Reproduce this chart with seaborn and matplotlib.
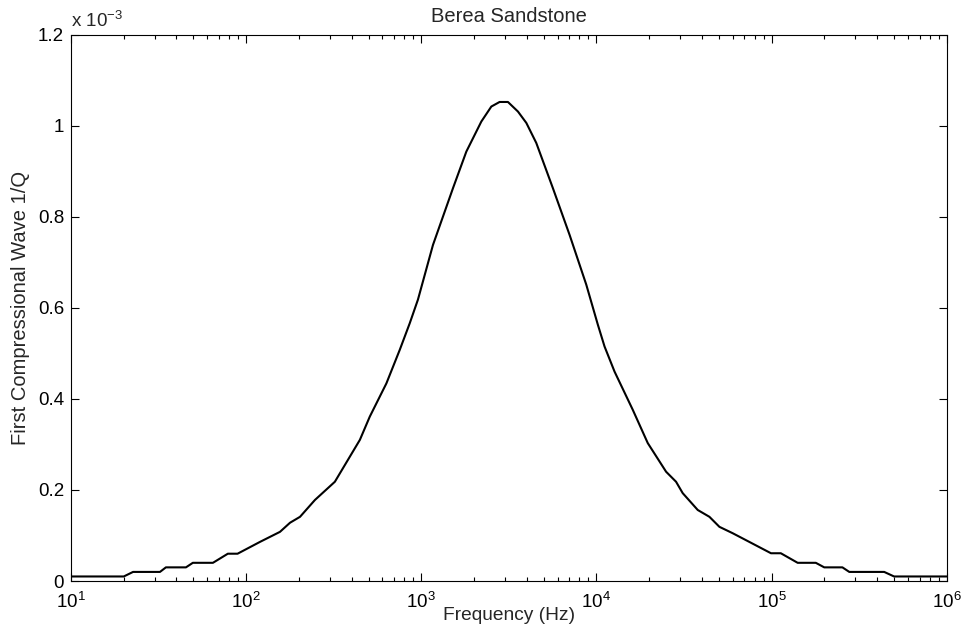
import numpy as np
import pandas as pd
import matplotlib
matplotlib.use("Agg")
import matplotlib.pyplot as plt
import seaborn as sns
from matplotlib.ticker import LogLocator, NullFormatter

# frequency (Hz) and attenuation 1/Q (units of 1e-3)
freq = [10, 20, 22.6, 32.2, 34.8, 45.3, 49.6, 64.6, 78.6, 89.3,
        120, 156, 178, 203, 247, 321, 446, 508, 632, 754, 859, 957,
        1166, 1518, 1808, 2202, 2512, 2800, 3125, 3564, 3980, 4536,
        5640, 7030, 8750, 10190, 11130, 12690, 16130, 19640, 25000,
        28500, 31100, 37900, 44200, 50400, 60000, 74600, 99300,
        113000, 141000, 179000, 200000, 254000, 278000, 440000,
        501000, 1000000]
inv_q = [0.01, 0.01, 0.02, 0.02, 0.03, 0.03, 0.04, 0.04, 0.06, 0.06,
         0.086, 0.108, 0.128, 0.141, 0.178, 0.218, 0.31, 0.361, 0.434,
         0.508, 0.566, 0.618, 0.738, 0.863, 0.943, 1.009, 1.042, 1.052,
         1.052, 1.031, 1.006, 0.962, 0.863, 0.760, 0.651, 0.563, 0.515,
         0.46, 0.376, 0.303, 0.24, 0.218, 0.193, 0.156, 0.141, 0.119,
         0.105, 0.086, 0.061, 0.061, 0.04, 0.04, 0.03, 0.03, 0.02, 0.02,
         0.01, 0.01]
yticks = [0, 0.2, 0.4, 0.6, 0.8, 1.0, 1.2]
ytick_labels = ["0", "0.2", "0.4", "0.6", "0.8", "1", "1.2"]

df = pd.DataFrame({"freq": freq, "invq": inv_q})

sns.set_style("white")
plt.rcParams["font.family"] = ["Liberation Sans", "DejaVu Sans"]
plt.rcParams["mathtext.fontset"] = "custom"
plt.rcParams["mathtext.rm"] = "Liberation Sans"
plt.rcParams["mathtext.it"] = "Liberation Sans:italic"

fig = plt.figure(figsize=(9.64, 6.31), dpi=100)
ax = fig.add_axes([0.0737, 0.0792, 0.9083, 0.866])

sns.lineplot(data=df, x="freq", y="invq", color="black", linewidth=1.5, ax=ax)

ax.set_xscale("log")
ax.set_xlim(10, 1e6)
ax.set_ylim(0, 1.2)
ax.set_yticks(yticks)
ax.set_yticklabels(ytick_labels)
ax.xaxis.set_major_locator(LogLocator(base=10, numticks=10))
ax.xaxis.set_minor_locator(LogLocator(base=10, subs=np.arange(2, 10), numticks=20))
ax.xaxis.set_minor_formatter(NullFormatter())

for s in ax.spines.values():
    s.set_visible(True)
    s.set_color("black")
    s.set_linewidth(0.8)

ax.tick_params(which="both", direction="in", top=True, right=True,
               bottom=True, left=True, colors="black", labelsize=13.5, width=0.8)
ax.tick_params(which="major", length=5.5)
ax.tick_params(which="minor", length=3.2)
ax.tick_params(axis="x", which="major", pad=8)
ax.tick_params(axis="y", which="major", pad=5)

ax.set_xlabel("Frequency (Hz)", fontsize=13.8, labelpad=-4)
ax.set_ylabel("First Compressional Wave 1/Q", fontsize=14.5, labelpad=6)
ax.set_title("Berea Sandstone", fontsize=14.5, pad=9)
ax.text(0.0, 1.006, r"x 10$^{-3}$", transform=ax.transAxes, fontsize=13.5,
        ha="left", va="bottom")

fig.savefig("out.png", dpi=100)
